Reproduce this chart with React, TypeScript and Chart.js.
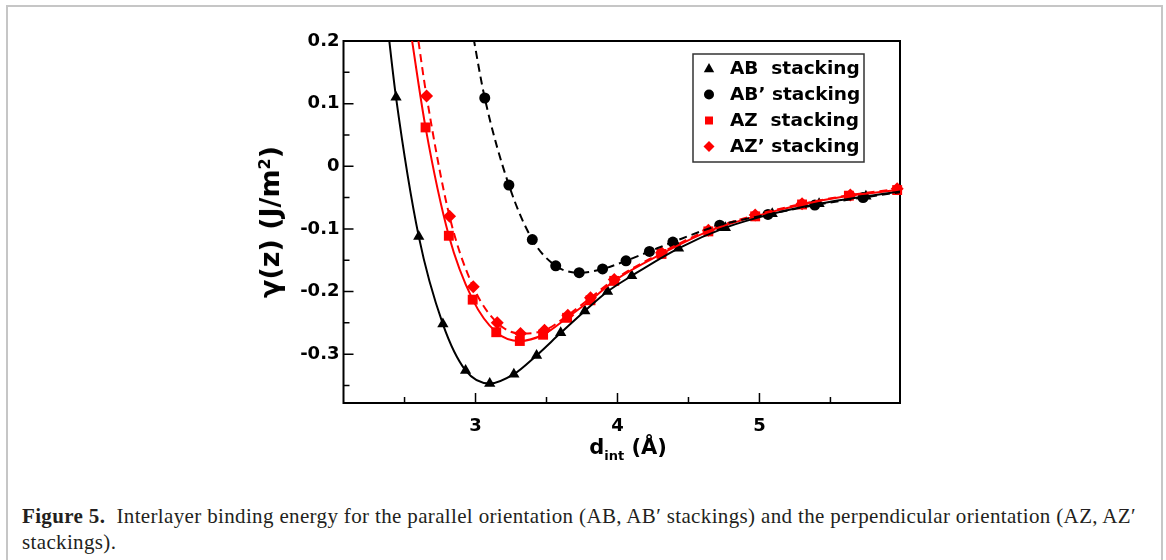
import React, { useEffect, useRef } from "react";
import { Chart, registerables } from "chart.js";

Chart.register(...registerables);

// ---- Data (d_int in Å, γ in J/m²) ----
const abX = [2.44, 2.60, 2.77, 2.93, 3.10, 3.27, 3.43, 3.60, 3.77, 3.93, 4.10, 4.43, 4.76, 5.09, 5.42, 5.75];
const abY = [0.110, -0.112, -0.252, -0.326, -0.347, -0.332, -0.302, -0.266, -0.231, -0.200, -0.175, -0.131, -0.098, -0.076, -0.060, -0.048];

const abpX = [3.065, 3.235, 3.40, 3.565, 3.73, 3.895, 4.06, 4.225, 4.39, 4.72, 5.06, 5.39, 5.73];
const abpY = [0.109, -0.030, -0.117, -0.159, -0.170, -0.164, -0.151, -0.136, -0.121, -0.094, -0.077, -0.062, -0.050];

const azX = [2.648, 2.812, 2.98, 3.146, 3.312, 3.476, 3.645, 3.81, 3.977, 4.31, 4.64, 4.97, 5.30, 5.63, 5.97];
const azY = [0.062, -0.111, -0.213, -0.265, -0.279, -0.269, -0.242, -0.214, -0.183, -0.140, -0.104, -0.080, -0.061, -0.047, -0.038];

const azpX = [2.655, 2.817, 2.984, 3.153, 3.317, 3.486, 3.65, 3.81, 3.977, 4.31, 4.64, 4.97, 5.30, 5.64, 5.97];
const azpY = [0.112, -0.080, -0.1925, -0.250, -0.267, -0.262, -0.238, -0.210, -0.181, -0.138, -0.102, -0.078, -0.060, -0.046, -0.036];

// fitted curves: the markers plus where each curve leaves the frame
const abCurveX = [2.38, ...abX, 6.0];
const abCurveY = [0.225, ...abY, -0.040];
const abpCurveX = [2.97, ...abpX, 6.0];
const abpCurveY = [0.225, ...abpY, -0.041];
const azCurveX = [2.54, ...azX, 6.0];
const azCurveY = [0.22, ...azY, -0.037];
const azpCurveX = [2.585, ...azpX, 6.0];
const azpCurveY = [0.22, ...azpY, -0.035];

const seriesLabels = ["AB  stacking", "AB\u2019 stacking", "AZ  stacking", "AZ\u2019 stacking"];

const xTickValues = [3, 4, 5];
const xMinorValues = [2.5, 3.5, 4.5, 5.5];
const yTickValues = [-0.3, -0.2, -0.1, 0, 0.1, 0.2];
const yMinorValues = [-0.35, -0.25, -0.15, -0.05, 0.05, 0.15];
const xMin = 2.07;
const xMax = 5.99;
const yMin = -0.378;
const yMax = 0.2;

const RED = "#ff0000";
const BLACK = "#000000";

function pts(xs: number[], ys: number[]) {
  return xs.map((x, i) => ({ x, y: ys[i] }));
}

function drawMarker(ctx: CanvasRenderingContext2D, style: string, x: number, y: number, r: number, color: string) {
  ctx.fillStyle = color;
  ctx.beginPath();
  if (style === "triangle") {
    ctx.moveTo(x, y - r);
    ctx.lineTo(x + r * 0.95, y + r * 0.7);
    ctx.lineTo(x - r * 0.95, y + r * 0.7);
    ctx.closePath();
  } else if (style === "circle") {
    ctx.arc(x, y, r, 0, Math.PI * 2);
  } else if (style === "rect") {
    ctx.rect(x - r * 0.8, y - r * 0.8, r * 1.6, r * 1.6);
  } else {
    ctx.moveTo(x, y - r);
    ctx.lineTo(x + r, y);
    ctx.lineTo(x, y + r);
    ctx.lineTo(x - r, y);
    ctx.closePath();
  }
  ctx.fill();
}

const framePlugin = {
  id: "frameTicks",
  beforeDatasetsDraw(chart: any) {
    const { ctx, chartArea: a, scales } = chart;
    const xs = scales.x;
    const ys = scales.y;
    ctx.save();
    ctx.strokeStyle = BLACK;
    ctx.lineWidth = 1.5;
    ctx.beginPath();
    for (const v of xTickValues) {
      const p = xs.getPixelForValue(v);
      ctx.moveTo(p, a.bottom);
      ctx.lineTo(p, a.bottom - 10);
    }
    for (const v of xMinorValues) {
      const p = xs.getPixelForValue(v);
      ctx.moveTo(p, a.bottom);
      ctx.lineTo(p, a.bottom - 6);
    }
    for (const v of yTickValues) {
      const p = ys.getPixelForValue(v);
      ctx.moveTo(a.left, p);
      ctx.lineTo(a.left + 10, p);
    }
    for (const v of yMinorValues) {
      const p = ys.getPixelForValue(v);
      ctx.moveTo(a.left, p);
      ctx.lineTo(a.left + 6, p);
    }
    ctx.stroke();
    ctx.lineWidth = 2;
    ctx.strokeRect(a.left, a.top, a.right - a.left, a.bottom - a.top);
    ctx.restore();
  },
};

const legendPlugin = {
  id: "insideLegend",
  afterDraw(chart: any) {
    const { ctx } = chart;
    const boxL = 693, boxT = 54, boxW = 171, boxH = 108;
    ctx.save();
    ctx.fillStyle = "#ffffff";
    ctx.fillRect(boxL, boxT, boxW, boxH);
    ctx.strokeStyle = "#333333";
    ctx.lineWidth = 1.5;
    ctx.strokeRect(boxL, boxT, boxW, boxH);
    const markerDs = chart.data.datasets.filter((d: any) => d.isMarker);
    markerDs.forEach((d: any, i: number) => {
      const cy = boxT + 14.5 + i * 26;
      drawMarker(ctx, d.pointStyle, boxL + 16, cy, d.legendR, d.backgroundColor);
      ctx.fillStyle = BLACK;
      ctx.font = "bold 18.5px 'DejaVu Sans'";
      ctx.textBaseline = "middle";
      ctx.textAlign = "left";
      ctx.fillText(d.label, boxL + 37, cy + 1);
    });
    ctx.restore();
  },
};

export default function App() {
  const canvasRef = useRef<HTMLCanvasElement | null>(null);

  useEffect(() => {
    const canvas = canvasRef.current;
    if (!canvas) return;
    const lineCommon = {
      showLine: true,
      pointRadius: 0,
      borderWidth: 2,
      cubicInterpolationMode: "monotone",
      capBezierPoints: false,
      fill: false,
    };
    const tickFont = { family: "'DejaVu Sans'", size: 18, weight: "bold" };
    const chart = new Chart(canvas, {
      type: "scatter",
      data: {
        datasets: [
          { ...lineCommon, label: "AB fit", data: pts(abCurveX, abCurveY), borderColor: BLACK },
          { ...lineCommon, label: "AB' fit", data: pts(abpCurveX, abpCurveY), borderColor: BLACK, borderDash: [8, 5] },
          { ...lineCommon, label: "AZ fit", data: pts(azCurveX, azCurveY), borderColor: RED },
          { ...lineCommon, label: "AZ' fit", data: pts(azpCurveX, azpCurveY), borderColor: RED, borderDash: [8, 5] },
          { label: seriesLabels[0], isMarker: true, legendR: 5.5, data: pts(abX, abY), pointStyle: "triangle", pointRadius: 6.5, backgroundColor: BLACK, borderColor: BLACK, borderWidth: 0, showLine: false, clip: false },
          { label: seriesLabels[1], isMarker: true, legendR: 5, data: pts(abpX, abpY), pointStyle: "circle", pointRadius: 5.5, backgroundColor: BLACK, borderColor: BLACK, borderWidth: 0, showLine: false, clip: false },
          { label: seriesLabels[2], isMarker: true, legendR: 5, data: pts(azX, azY), pointStyle: "rect", pointRadius: 7, backgroundColor: RED, borderColor: RED, borderWidth: 0, showLine: false, clip: false },
          { label: seriesLabels[3], isMarker: true, legendR: 5.5, data: pts(azpX, azpY), pointStyle: "rectRot", pointRadius: 6.5, backgroundColor: RED, borderColor: RED, borderWidth: 0, showLine: false, clip: false },
        ] as any,
      },
      options: {
        animation: false,
        responsive: false,
        maintainAspectRatio: false,
        events: [],
        layout: { padding: { left: 243.5, top: 41, right: 266, bottom: 37 } },
        plugins: { legend: { display: false }, tooltip: { enabled: false }, title: { display: false } },
        scales: {
          x: {
            type: "linear",
            min: xMin,
            max: xMax,
            grid: { display: false, drawTicks: false },
            border: { display: false },
            afterBuildTicks: (s: any) => {
              s.ticks = xTickValues.map((v) => ({ value: v }));
            },
            afterFit: (s: any) => {
              s.height = 30;
            },
            ticks: {
              font: tickFont,
              color: BLACK,
              padding: 13,
              maxRotation: 0,
              autoSkip: false,
              callback: (v: any) => String(v),
            },
          },
          y: {
            type: "linear",
            min: yMin,
            max: yMax,
            grid: { display: false, drawTicks: false },
            border: { display: false },
            afterBuildTicks: (s: any) => {
              s.ticks = yTickValues.map((v) => ({ value: v }));
            },
            afterFit: (s: any) => {
              s.width = 100;
            },
            ticks: {
              font: tickFont,
              color: BLACK,
              padding: 4,
              autoSkip: false,
              callback: (v: any) => (Math.abs(v) < 1e-9 ? "0" : Number(v).toFixed(1)),
            },
          },
        },
      } as any,
      plugins: [framePlugin, legendPlugin],
    });
    return () => chart.destroy();
  }, []);

  return (
    <div style={{ position: "absolute", left: 0, top: 0, width: 1166, height: 560, overflow: "hidden", background: "#fff" }}>
      <div
        style={{
          position: "absolute",
          left: 6,
          top: 5,
          width: 1157,
          height: 620,
          border: "2px solid #c6c6c6",
          boxSizing: "border-box",
        }}
      />
      <canvas ref={canvasRef} width={1166} height={470} style={{ position: "absolute", left: 0, top: 0, width: 1166, height: 470 }} />
      <div
        style={{
          position: "absolute",
          left: 270,
          top: 222,
          transform: "translate(-50%, -50%) rotate(-90deg)",
          whiteSpace: "nowrap",
          fontFamily: "'DejaVu Sans'",
          fontWeight: "bold",
          fontSize: 27,
          lineHeight: "30px",
          color: "#000",
        }}
      >
        γ(z) (J/m<sup style={{ fontSize: 16, verticalAlign: "9px", lineHeight: 0 }}>2</sup>)
      </div>
      <div
        style={{
          position: "absolute",
          left: 628,
          top: 434,
          transform: "translateX(-50%)",
          whiteSpace: "nowrap",
          fontFamily: "'DejaVu Sans'",
          fontWeight: "bold",
          fontSize: 21,
          lineHeight: "26px",
          color: "#000",
        }}
      >
        d<sub style={{ fontSize: 13, verticalAlign: "-6px", lineHeight: 0 }}>int</sub> (Å)
      </div>
      <div
        style={{
          position: "absolute",
          left: 22,
          top: 503,
          fontFamily: "'Liberation Serif'",
          fontSize: 21,
          letterSpacing: "0.35px",
          lineHeight: "26px",
          color: "#231f20",
          whiteSpace: "nowrap",
        }}
      >
        <b>Figure 5.</b>
        {"\u00a0\u00a0Interlayer binding energy for the parallel orientation (AB, AB\u2032 stackings) and the perpendicular orientation (AZ, AZ\u2032"}
        <br />
        {"stackings)."}
      </div>
    </div>
  );
}
